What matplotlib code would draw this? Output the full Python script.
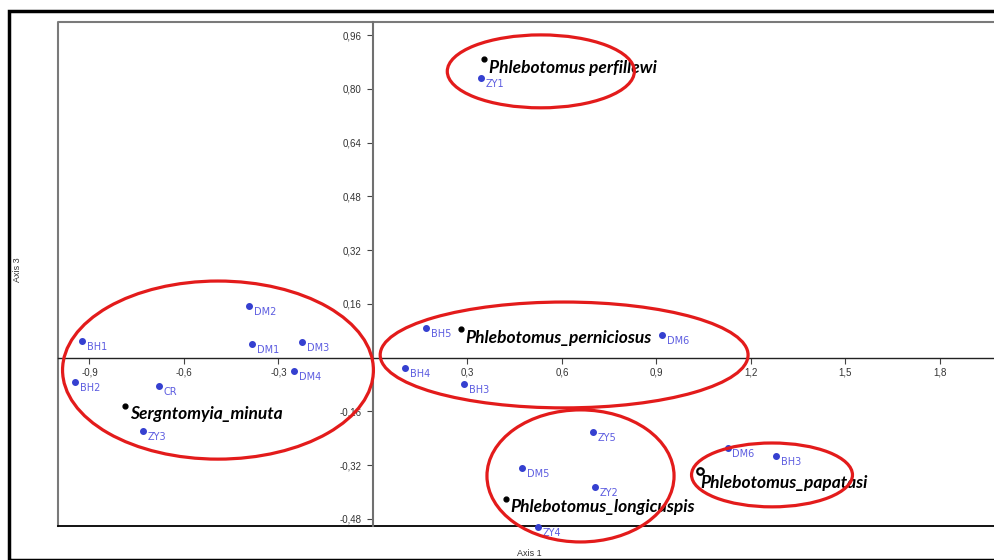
#!/usr/bin/env python

"""
CA plot: samples (blue) and sand fly species (black), axis 1 vs axis 3
"""

import matplotlib
matplotlib.use("Agg")
import matplotlib.pyplot as plt
from matplotlib.patches import Ellipse, Rectangle

# sample scores
sample_names = ["BH1", "DM2", "DM1", "DM3", "DM4", "BH2", "CR", "ZY3",
                "BH5", "DM6", "BH4", "BH3",
                "ZY5", "DM5", "ZY2", "ZY4",
                "DM6", "BH3", "ZY1"]
sample_x = [-0.923, -0.393, -0.384, -0.226, -0.250, -0.945, -0.679, -0.730,
            0.169, 0.917, 0.102, 0.290,
            0.698, 0.473, 0.705, 0.523,
            1.126, 1.280, 0.342]
sample_y = [0.050, 0.155, 0.040, 0.046, -0.039, -0.073, -0.084, -0.217,
            0.089, 0.068, -0.030, -0.078,
            -0.220, -0.329, -0.384, -0.503,
            -0.268, -0.293, 0.832]

# species scores
species_names = ["Sergntomyia_minuta", "Phlebotomus_perniciosus",
                 "Phlebotomus_longicuspis", "Phlebotomus_papatasi",
                 "Phlebotomus perfillewi"]
species_x = [-0.786, 0.280, 0.422, 1.038, 0.354]
species_y = [-0.144, 0.084, -0.421, -0.336, 0.888]

# groups drawn by hand (center x, center y, width, height)
group_cx = [-0.492, 0.607, 0.659, 1.267, 0.533]
group_cy = [-0.037, 0.008, -0.352, -0.349, 0.852]
group_w = [0.987, 1.168, 0.594, 0.511, 0.594]
group_h = [0.530, 0.315, 0.393, 0.190, 0.217]

xticks = [-0.9, -0.6, -0.3, 0.3, 0.6, 0.9, 1.2, 1.5, 1.8]
xticklabels = ["-0,9", "-0,6", "-0,3", "0,3", "0,6", "0,9", "1,2", "1,5", "1,8"]
yticks = [-0.48, -0.32, -0.16, 0.16, 0.32, 0.48, 0.64, 0.80, 0.96]
yticklabels = ["-0,48", "-0,32", "-0,16", "0,16", "0,32", "0,48", "0,64", "0,80", "0,96"]


def make_graph():
    fig = plt.figure(figsize=(9.95, 5.6), dpi=100)
    ax = fig.add_axes([58.3 / 995, 1 - 526 / 560, 1 - 58.3 / 995, (526 - 22.3) / 560])
    ax.set_xlim(-0.999, 1.975)
    ax.set_ylim(-0.501, 0.998)

    # axes crossing at the origin
    ax.spines["left"].set_position(("data", 0))
    ax.spines["bottom"].set_position(("data", 0))
    ax.spines["left"].set_color("#707070")
    ax.spines["left"].set_linewidth(1.5)
    ax.spines["bottom"].set_color("#222222")
    ax.spines["bottom"].set_linewidth(1.0)
    ax.spines["top"].set_visible(False)
    ax.spines["right"].set_visible(False)
    # frame: gray left/top, black bottom, no right side
    ax.plot([0, 0, 1], [0, 1, 1], transform=ax.transAxes, color="#7a7a7a", lw=1.5, clip_on=False)
    ax.plot([0, 1], [0, 0], transform=ax.transAxes, color="black", lw=1.3, clip_on=False)

    ax.set_xticks(xticks)
    ax.set_xticklabels(xticklabels)
    ax.set_yticks(yticks)
    ax.set_yticklabels(yticklabels)
    ax.tick_params(axis="both", direction="out", length=4, width=0.8, color="#444444",
                   labelsize=7, labelcolor="#333333", pad=4)
    ax.tick_params(axis="x", pad=3)
    for lab in ax.get_xticklabels() + ax.get_yticklabels():
        lab.set_family("Liberation Sans")

    ax.text(529 / 995, 1 - 554 / 560, "Axis 1", transform=fig.transFigure, fontsize=6.5,
            family="Liberation Sans", ha="center", va="center", color="#333333")
    ax.text(18 / 995, 1 - 270 / 560, "Axis 3", transform=fig.transFigure, fontsize=6.5,
            family="Liberation Sans", ha="center", va="center", rotation=90, color="#333333")

    # samples
    ax.scatter(sample_x, sample_y, s=16, color="#3540d0", zorder=3, clip_on=False)
    for name, x, y in zip(sample_names, sample_x, sample_y):
        ax.annotate(name, (x, y), xytext=(3.5, -4.5), textcoords="offset points",
                    fontsize=7, color="#5c5ce0", ha="left", va="center",
                    annotation_clip=False)

    # species
    for name, x, y in zip(species_names, species_x, species_y):
        if name == "Phlebotomus_papatasi":
            ax.scatter([x], [y], s=22, facecolor="white", edgecolor="black",
                       linewidth=1.6, zorder=4)
            off = (0, -9)
        else:
            ax.scatter([x], [y], s=12, color="black", zorder=4)
            off = (3, -6)
        ax.annotate(name, (x, y), xytext=off, textcoords="offset points",
                    fontsize=12.5, family=["Lato", "DejaVu Sans"], weight="bold",
                    style="italic", color="black", ha="left", va="center")

    for cx, cy, w, h in zip(group_cx, group_cy, group_w, group_h):
        ax.add_patch(Ellipse((cx, cy), w, h, fill=False, edgecolor="#e31b1b",
                             linewidth=2.3, zorder=5, clip_on=False))

    # outer frame of the screenshot
    fig.patches.append(Rectangle((9 / 995, 0), 1.2, 1 - 11 / 560, transform=fig.transFigure,
                                 fill=False, edgecolor="black", linewidth=2.5))

    fig.savefig("out.png", dpi=100)
    plt.close(fig)


def main():
    make_graph()


if __name__ == "__main__":
    main()
